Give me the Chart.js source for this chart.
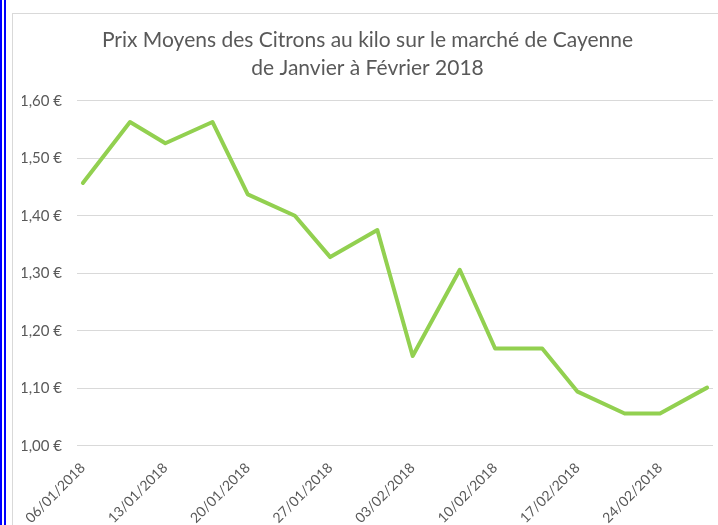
<!DOCTYPE html>
<html lang="fr">
<head>
<meta charset="utf-8">
<title>Prix Moyens des Citrons</title>
<script src="https://cdn.jsdelivr.net/npm/chart.js@4"></script>
<style>
    html, body { margin: 0; padding: 0; background: #fff; overflow: hidden; }
    #wrap { position: relative; width: 718px; height: 525px; overflow: hidden; }
    #prix { position: absolute; left: 0; top: 0; }
    .bleu { position: absolute; top: 0; width: 2px; height: 525px; background: #0000ff; }
    #cadreH { position: absolute; left: 12px; top: 13px; width: 706px; height: 1px; background: #d9d9d9; }
    #cadreV { position: absolute; left: 12px; top: 13px; width: 1px; height: 512px; background: #d9d9d9; }
</style>
</head>
<body>
<div id="wrap">
    <canvas id="prix" width="718" height="540"></canvas>
    <div class="bleu" style="left:0"></div>
    <div class="bleu" style="left:4px"></div>
    <div id="cadreH"></div>
    <div id="cadreV"></div>
</div>
<script>
// Dates des relevés
const dates = [
    '06/01/2018', '10/01/2018', '13/01/2018', '17/01/2018',
    '20/01/2018', '24/01/2018', '27/01/2018', '31/01/2018',
    '03/02/2018', '07/02/2018', '10/02/2018', '14/02/2018',
    '17/02/2018', '21/02/2018', '24/02/2018', '28/02/2018'
];
// Prix moyen au kilo (€)
const prix = [
    1.457, 1.563, 1.526, 1.563,
    1.437, 1.400, 1.328, 1.375,
    1.156, 1.306, 1.169, 1.169,
    1.094, 1.056, 1.056, 1.101
];
// Graduations de l'axe X (une par semaine)
const ticksX = [
    '06/01/2018', '13/01/2018', '20/01/2018', '27/01/2018',
    '03/02/2018', '10/02/2018', '17/02/2018', '24/02/2018'
];
const ticksY = [1.00, 1.10, 1.20, 1.30, 1.40, 1.50, 1.60];

const titre = [
    'Prix Moyens des Citrons au kilo sur le marché de Cayenne',
    'de Janvier à Février 2018'
];

// jour relatif au premier relevé
function jour(s) {
    const [d, m, y] = s.split('/').map(Number);
    return (Date.UTC(y, m - 1, d) - Date.UTC(2018, 0, 6)) / 86400000;
}

document.addEventListener('DOMContentLoaded', () => {
    const ctx = document.getElementById('prix').getContext('2d');
    const gris = '#595959';

    new Chart(ctx, {
        type: 'line',
        data: {
            datasets: [{
                data: dates.map((d, i) => ({ x: jour(d), y: prix[i] })),
                borderColor: 'rgb(146, 208, 80)',
                borderWidth: 4,
                borderJoinStyle: 'round',
                borderCapStyle: 'round',
                pointRadius: 0,
                tension: 0,
                fill: false
            }]
        },
        options: {
            responsive: false,
            animation: false,
            devicePixelRatio: 1,
            layout: { padding: { left: 22, right: 5, top: 13, bottom: 0 } },
            plugins: {
                legend: { display: false },
                tooltip: { enabled: false },
                title: {
                    display: true,
                    text: titre,
                    color: gris,
                    font: { family: 'Lato', size: 21, weight: 'normal', lineHeight: 1.35 },
                    padding: { top: 13, bottom: 18 }
                }
            },
            scales: {
                x: {
                    type: 'linear',
                    min: -0.5,
                    max: 53.5,
                    afterBuildTicks: axis => { axis.ticks = ticksX.map(t => ({ value: jour(t) })); },
                    afterFit: axis => { axis.height = 94.3; },
                    grid: { display: false, drawTicks: false },
                    border: { display: false },
                    ticks: {
                        autoSkip: false,
                        minRotation: 45,
                        maxRotation: 45,
                        padding: 14,
                        color: gris,
                        font: { family: 'Lato', size: 14 },
                        callback: v => ticksX.find(t => jour(t) === v) || ''
                    }
                },
                y: {
                    min: 1.0,
                    max: 1.6,
                    afterBuildTicks: axis => { axis.ticks = ticksY.map(v => ({ value: v })); },
                    afterFit: axis => { axis.width = 55; },
                    grid: { color: '#d9d9d9', lineWidth: 1, drawTicks: false },
                    border: { display: false },
                    ticks: {
                        padding: 15,
                        color: gris,
                        font: { family: 'Lato', size: 15 },
                        callback: v => v.toFixed(2).replace('.', ',') + ' €'
                    }
                }
            }
        }
    });
});
</script>
</body>
</html>
